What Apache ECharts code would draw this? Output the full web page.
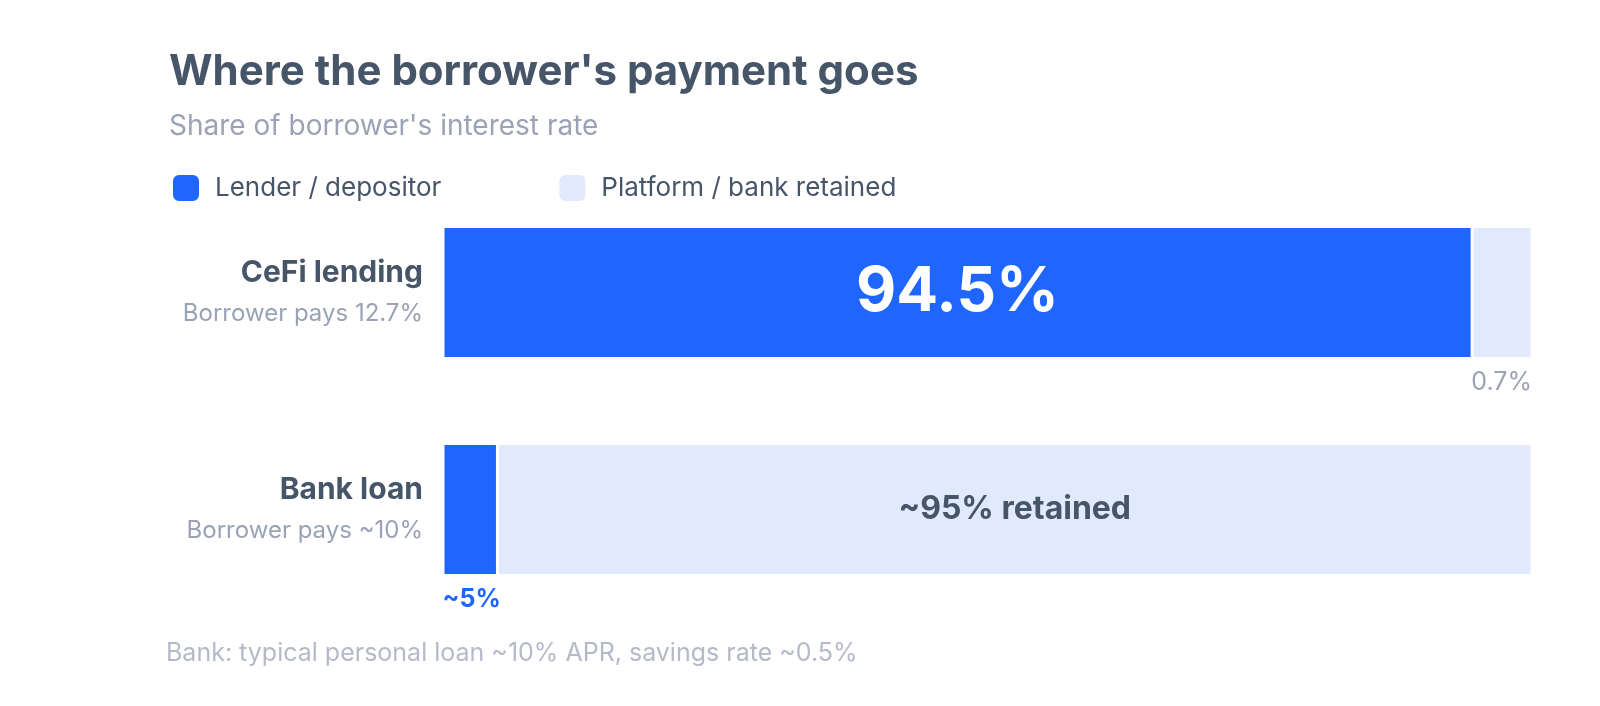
<!DOCTYPE html>
<html>
<head>
<meta charset="utf-8">
<script src="https://cdn.jsdelivr.net/npm/echarts@6/dist/echarts.min.js"></script>
<style>html,body{margin:0;padding:0;background:#fff}#chart{width:1600px;height:706px}</style>
</head>
<body>
<div id="chart"></div>
<script>
var categories = ['CeFi lending', 'Bank loan'];
var subLabels = ['Borrower pays 12.7%', 'Borrower pays ~10%'];
var lenderShare = [94.5, 5];
var retainedShare = [5.5, 95];
var lenderLabels = ['94.5%', '~5%'];
var retainedLabels = ['0.7%', '~95% retained'];

var BLUE = '#1f66ff', PALE = '#e1e9fc', DARK = '#475569', GREY = '#9aa3b5';
var FONT = 'Inter, "Noto Sans", sans-serif';

var chart = echarts.init(document.getElementById('chart'));
chart.setOption({
	backgroundColor: '#fff',
	textStyle: { fontFamily: FONT },
	title: {
		text: "Where the borrower's payment goes",
		subtext: "Share of borrower's interest rate",
		left: 164, top: 46, itemGap: 20,
		textStyle: { fontFamily: FONT, fontSize: 42, fontWeight: 'bold', color: DARK },
		subtextStyle: { fontFamily: FONT, fontSize: 28, color: GREY }
	},
	legend: {
		left: 166, top: 168, icon: 'roundRect', itemWidth: 28, itemHeight: 28, itemGap: 116,
		textStyle: { fontFamily: FONT, fontSize: 26, color: DARK, padding: [0, 0, 0, 10] },
		data: ['Lender / depositor', 'Platform / bank retained']
	},
	grid: { left: 443, right: 68, top: 184, bottom: 88 },
	xAxis: { type: 'value', min: 0, max: 100, show: false },
	yAxis: {
		type: 'category', inverse: true, data: categories,
		axisLine: { show: false }, axisTick: { show: false },
		axisLabel: {
			margin: 20, align: 'right',
			formatter: function(v, i) {
				return '{a|' + v + '}\n{b|' + subLabels[i] + '}';
			},
			rich: {
				a: { fontFamily: FONT, fontSize: 30, fontWeight: 'bold', color: DARK, lineHeight: 42, align: 'right' },
				b: { fontFamily: FONT, fontSize: 24, color: GREY, lineHeight: 40, align: 'right' }
			}
		}
	},
	series: [
		{
			name: 'Lender / depositor', type: 'bar', stack: 's', barWidth: 132,
			itemStyle: { color: BLUE, borderColor: '#fff', borderWidth: 1.5 },
			data: [
				{ value: lenderShare[0], label: { show: true, position: 'inside', formatter: lenderLabels[0],
					fontFamily: FONT, fontSize: 62, fontWeight: 'bold', color: '#fff' } },
				{ value: lenderShare[1], label: { show: true, position: ['-1%', '109%'], align: 'left', formatter: lenderLabels[1],
					fontFamily: FONT, fontSize: 25, fontWeight: 'bold', color: BLUE } }
			]
		},
		{
			name: 'Platform / bank retained', type: 'bar', stack: 's', barWidth: 132,
			itemStyle: { color: PALE, borderColor: '#fff', borderWidth: 1.5 },
			data: [
				{ value: retainedShare[0], label: { show: true, position: ['100%', '109%'], align: 'right', formatter: retainedLabels[0],
					fontFamily: FONT, fontSize: 25, color: GREY } },
				{ value: retainedShare[1], label: { show: true, position: 'inside', formatter: retainedLabels[1],
					fontFamily: FONT, fontSize: 32, fontWeight: 'bold', color: DARK } }
			]
		}
	],
	graphic: [{
		type: 'text', left: 166, top: 641,
		style: { text: 'Bank: typical personal loan ~10% APR, savings rate ~0.5%', fontFamily: FONT, fontSize: 25, fill: '#b4bac7' }
	}]
});
</script>
</body>
</html>
